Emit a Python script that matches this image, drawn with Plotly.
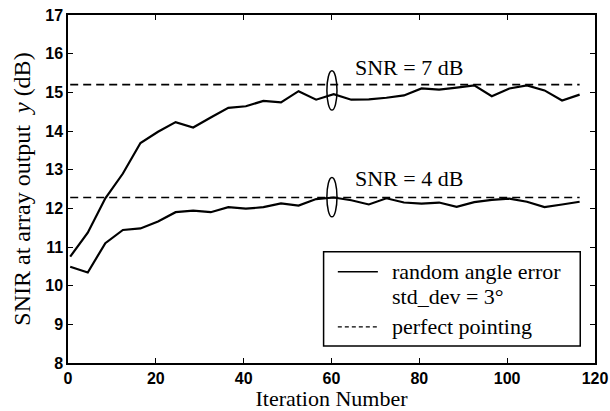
import plotly.graph_objects as go

# ---- data ----
iterations = [0.5 + 4 * k for k in range(30)]
snr7_random = [10.75, 11.37, 12.26, 12.9, 13.69, 13.98, 14.23, 14.09, 14.35, 14.6,
               14.64, 14.78, 14.74, 15.03, 14.81, 14.95, 14.81, 14.82, 14.86, 14.92,
               15.1, 15.07, 15.12, 15.18, 14.9, 15.1, 15.18, 15.05, 14.79, 14.94]
snr4_random = [10.49, 10.34, 11.1, 11.44, 11.48, 11.66, 11.9, 11.94, 11.9, 12.03,
               11.99, 12.03, 12.13, 12.07, 12.24, 12.28, 12.21, 12.1, 12.26, 12.15,
               12.12, 12.15, 12.04, 12.16, 12.22, 12.25, 12.17, 12.03, 12.1, 12.17]
perfect_pointing = [15.2, 12.28]          # SNR = 7 dB, SNR = 4 dB
snr_labels = ["SNR = 7 dB", "SNR = 4 dB"]
label_y = [15.65, 12.78]
ellipse_x = [60.1, 60.1]
ellipse_y = [15.05, 12.29]
x_ticks = [0, 20, 40, 60, 80, 100, 120]
y_ticks = [8, 9, 10, 11, 12, 13, 14, 15, 16, 17]
legend_texts = ["random angle error", "std_dev = 3°", "perfect pointing"]

SERIF = "Liberation Serif"
SANS = "Liberation Sans"

fig = go.Figure()
for ys in (snr7_random, snr4_random):
    fig.add_trace(go.Scatter(x=iterations, y=ys, mode="lines",
                             line=dict(color="black", width=2.2),
                             name="random angle error", showlegend=False))
for v in perfect_pointing:
    fig.add_trace(go.Scatter(x=[iterations[0], iterations[-1]], y=[v, v], mode="lines",
                             line=dict(color="black", width=1.6, dash="8px,5px"),
                             name="perfect pointing", showlegend=False))

for lab, ly in zip(snr_labels, label_y):
    fig.add_annotation(x=64.9, y=ly, text=lab, showarrow=False, xanchor="left",
                       yanchor="middle", font=dict(family=SERIF, size=22, color="black"))

for ex, ey in zip(ellipse_x, ellipse_y):
    fig.add_shape(type="circle", xref="x", yref="y",
                  x0=ex - 1.15, x1=ex + 1.15, y0=ey - 0.51, y1=ey + 0.51,
                  line=dict(color="black", width=1.5))

# ---- legend box (drawn in paper coordinates) ----
fig.add_shape(type="rect", xref="paper", yref="paper", x0=0.485, x1=0.972,
              y0=0.049, y1=0.32, line=dict(color="black", width=1.5),
              fillcolor="white", layer="above")
fig.add_shape(type="line", xref="paper", yref="paper", x0=0.512, x1=0.588,
              y0=0.262, y1=0.262, line=dict(color="black", width=1.5), layer="above")
fig.add_shape(type="line", xref="paper", yref="paper", x0=0.512, x1=0.588,
              y0=0.104, y1=0.104, line=dict(color="black", width=1.2, dash="4px,3px"),
              layer="above")
for txt, ty in zip(legend_texts, [0.262, 0.19, 0.104]):
    fig.add_annotation(xref="paper", yref="paper", x=0.611, y=ty, text=txt,
                       showarrow=False, xanchor="left", yanchor="middle",
                       font=dict(family=SERIF, size=22, color="black"))

axis_common = dict(showline=True, linecolor="black", linewidth=1.5, mirror="ticks",
                   ticks="inside", ticklen=5, tickwidth=1.2, tickcolor="black",
                   showgrid=False, zeroline=False, automargin=False,
                   tickfont=dict(family=SANS, size=16, color="black", weight="bold"))

fig.update_xaxes(range=[0, 120], tickvals=x_ticks,
                 title=dict(text="Iteration Number", standoff=2,
                            font=dict(family=SERIF, size=22, color="black")),
                 **axis_common)
fig.update_yaxes(range=[8, 17], tickvals=y_ticks,
                 title=dict(text="SNIR at array output \u00a0<i>y</i> (dB)", standoff=8,
                            font=dict(family=SERIF, size=24, color="black")),
                 **axis_common)

fig.update_layout(
    width=610, height=411,
    margin=dict(l=68, r=15, t=15, b=48),
    paper_bgcolor="white", plot_bgcolor="white",
    showlegend=False,
)

fig.write_html("out.html", config={"displayModeBar": False},
               post_script="document.body.style.margin='0';")
